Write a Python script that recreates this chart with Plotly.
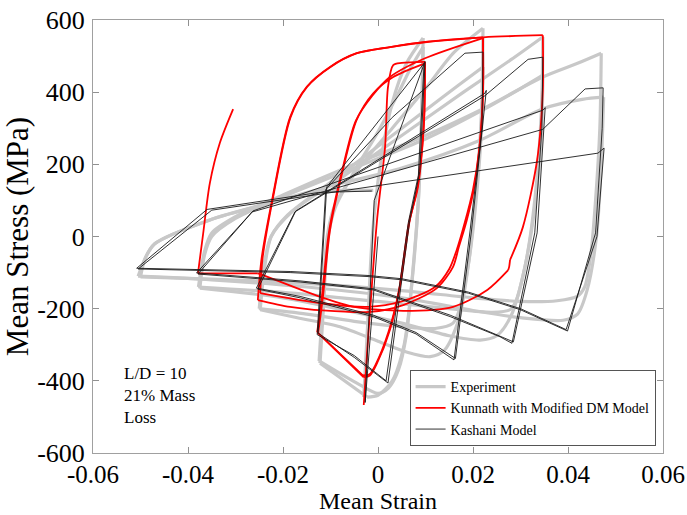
import plotly.graph_objects as go

N = None  # break between smoothed segments (corner points are repeated)

# ---------------- data (strain, stress in MPa) ----------------
exp_strain = [-0.003, -0.0022, -0.0012, 0.0005, 0.003, 0.006, 0.0095, N,
              0.0095, 0.0092, 0.0085, 0.0072, 0.0055, 0.003, 0.0, -0.0023, N,
              -0.0023, -0.0122, N,
              -0.0122, -0.0115, -0.0105, -0.009, -0.005, 0.0, 0.004, 0.007, 0.0095, N,
              0.0095, 0.0092, 0.0085, 0.0073, 0.006, 0.0043, 0.0022, 0.0, -0.004, -0.0124, N,
              -0.0124, -0.0117, -0.0107, -0.009, -0.004, 0.003, 0.010, 0.016, 0.0221, N,
              0.0221, 0.0218, 0.0205, 0.019, 0.017, 0.014, 0.011, 0.006, 0.0, -0.008, -0.017, -0.0248, N,
              -0.0248, -0.0238, -0.0225, -0.019, -0.010, 0.0, 0.010, 0.017, 0.0221, N,
              0.0221, 0.0218, 0.0205, 0.019, 0.0172, 0.0158, 0.012, 0.005, -0.005, -0.015, -0.025, N,
              -0.025, -0.024, -0.0225, -0.018, -0.008, 0.005, 0.018, 0.028, 0.0347, N,
              0.0347, 0.0344, 0.033, 0.031, 0.028, 0.025, 0.0215, 0.015, 0.005, -0.005, -0.020, -0.0375, N,
              -0.0375, -0.0365, -0.035, -0.030, -0.020, -0.005, 0.010, 0.022, 0.030, 0.0347, N,
              0.0347, 0.0344, 0.033, 0.031, 0.029, 0.0278, 0.024, 0.015, 0.0, -0.020, -0.0378, N,
              -0.0378, -0.0365, -0.035, -0.030, -0.020, -0.005, 0.010, 0.0215, 0.0347, 0.042, 0.047, N,
              0.047, 0.0467, 0.0458, 0.0448, 0.0435, 0.042, 0.0377, 0.030, 0.020, 0.005, -0.015, -0.035, -0.050, N,
              -0.050, -0.049, -0.047, -0.0354, -0.025, -0.010, 0.005, 0.0215, 0.0347, 0.043, 0.0475, N,
              0.0475, 0.047, 0.046, 0.044, 0.042, 0.039, 0.030, 0.020, 0.005, -0.015, -0.035, -0.0505, N,
              -0.0505, -0.049, -0.047, -0.0354, -0.025, -0.0122, -0.001]
exp_stress = [-445, -250, 0, 200, 370, 480, 550, N,
              550, 350, 100, -120, -300, -400, -440, -445, N,
              -445, -351, N,
              -351, -200, 0, 80, 180, 290, 390, 470, 525, N,
              525, 330, 100, -100, -270, -370, -420, -435, -410, -345, N,
              -345, -200, 0, 90, 190, 300, 410, 510, 577, N,
              577, 350, 100, -80, -230, -315, -333, -320, -290, -250, -225, -203, N,
              -203, -80, 0, 60, 150, 250, 350, 420, 470, N,
              470, 300, 80, -80, -200, -240, -255, -250, -235, -215, -200, N,
              -200, -80, 0, 70, 160, 280, 400, 490, 553, N,
              553, 350, 100, -80, -220, -275, -287, -275, -240, -210, -170, -143, N,
              -143, -50, 0, 50, 110, 190, 270, 350, 410, 447, N,
              447, 280, 80, -80, -180, -203, -210, -200, -180, -155, -140, N,
              -140, -40, 10, 55, 115, 200, 280, 350, 442, 480, 508, N,
              508, 300, 100, -50, -140, -165, -178, -180, -170, -150, -130, -118, -112, N,
              -112, -60, -20, 46, 85, 140, 190, 267, 354, 380, 386, N,
              386, 200, 0, -150, -215, -232, -225, -205, -170, -140, -120, -110, N,
              -110, -60, -20, 46, 85, 125, 128]

kun_strain = [-0.003, -0.0023, -0.0002, 0.0015, 0.0021, 0.0032, 0.005, 0.0099, N,
              0.0099, 0.0097, 0.0084, 0.0067, 0.0046, 0.0025, -0.0002, -0.0017, -0.003, N,
              -0.003, -0.0126, N,
              -0.0126, -0.0116, -0.0101, -0.0074, -0.0045, -0.001, 0.0032, 0.0099, N,
              0.0099, 0.0096, 0.0082, 0.0064, 0.0044, 0.0022, -0.0005, -0.0018, -0.0032, N,
              -0.0032, -0.0128, N,
              -0.0128, -0.0118, -0.0103, -0.0076, -0.0047, -0.0012, 0.0025, 0.0099, 0.0221, N,
              0.0221, 0.0221, 0.0214, 0.0203, 0.0187, 0.0170, 0.0158, 0.0124, 0.0053, -0.0017, -0.0116, -0.0185, -0.0253, N,
              -0.0253, -0.0245, -0.0223, -0.0185, -0.015, -0.0101, -0.0045, 0.0025, 0.0103, 0.0221, N,
              0.0221, 0.0221, 0.0213, 0.0200, 0.0183, 0.0165, 0.0150, 0.012, 0.005, -0.002, -0.012, -0.0248, N,
              -0.0248, -0.0243, -0.0222, -0.0184, -0.0149, -0.0100, -0.0044, 0.0026, 0.0104, 0.0222, 0.0347, N,
              0.0347, 0.0347, 0.0335, 0.0305, 0.0278, N,
              0.0278, 0.0276, 0.0274, N,
              0.0274, 0.023, 0.0158, 0.0053, -0.005, -0.0122, -0.0242, -0.0253, N,
              -0.0253, -0.0379, N,
              -0.0379, -0.0368, -0.0354, -0.0333, -0.0305]
kun_stress = [-467, -323, 46, 250, 414, 475, 481, 484, N,
              484, 322, 137, 46, -140, -259, -351, -385, -390, N,
              -390, -268, N,
              -268, -168, 18, 184, 323, 397, 442, 480, N,
              480, 300, 130, 30, -150, -265, -355, -382, -385, N,
              -385, -265, N,
              -265, -165, 15, 180, 320, 390, 442, 494, 550, N,
              550, 400, 250, 140, 46, -30, -84, -143, -190, -209, -205, -195, -176, N,
              -176, -60, 101, 331, 415, 470, 508, 525, 539, 552, N,
              552, 400, 240, 130, 40, -40, -90, -140, -180, -195, -185, -157, N,
              -157, -60, 101, 331, 415, 470, 508, 525, 540, 552, 558, N,
              558, 406, 212, 26, -65, N,
              -65, -85, -93, N,
              -93, -148, -195, -206, -195, -167, -107, -102, N,
              -102, -102, N,
              -102, 9, 148, 259, 353]

kas_strain = [0, -0.0027,
              -0.0008, 0.0099,
              0.0088, 0.0067, 0.0021, -0.005, -0.0126,
              -0.0108, 0.0097,
              0.0085, 0.0064, 0.0017, -0.005, -0.0128,
              -0.0110, 0.0030, 0.0183, 0.0221,
              0.0219, 0.0194, 0.0160, 0.008, -0.001, -0.0164, -0.0253,
              -0.0173, 0.0225, 0.0228,
              0.0197, 0.0163, 0.008, -0.001, -0.0164, -0.0256,
              -0.0175, 0.0225, 0.0316, 0.0347,
              0.0345, 0.0330, 0.0282, 0.0257, 0.0152, -0.001, -0.0164, -0.0379,
              -0.0263, 0.0347, 0.0352,
              0.0335, 0.0285, 0.0152, -0.001, -0.0164, -0.0382,
              -0.0265, 0.0347, 0.0436, 0.0474,
              0.0472, 0.0458, 0.0399, 0.030, 0.019, 0.005, -0.0021, -0.0185, -0.0505,
              -0.035, 0.0463, 0.0476,
              0.0461, 0.0396, 0.030, 0.019, 0.005, -0.0021, -0.0185, -0.0508,
              -0.036, -0.0125, -0.0013]
kas_stress = [0, -460,
              100, 485,
              180, 46, -406, -335, -268,
              137, 480,
              170, 40, -400, -330, -272,
              130, 330, 508, 511,
              300, 18, -342, -270, -222, -170, -146,
              71, 397, 405,
              18, -338, -266, -218, -166, -143,
              68, 390, 491, 497,
              300, 10, -296, -278, -222, -148, -126, -104,
              71, 350, 357,
              10, -292, -218, -145, -123, -101,
              68, 297, 409, 412,
              300, 10, -262, -203, -157, -120, -111, -100, -90,
              73, 231, 245,
              0, -258, -200, -154, -117, -108, -97, -88,
              75, 122, 126]

x_ticks = [-0.06, -0.04, -0.02, 0, 0.02, 0.04, 0.06]
x_tick_text = ["-0.06", "-0.04", "-0.02", "0", "0.02", "0.04", "0.06"]
y_ticks = [-600, -400, -200, 0, 200, 400, 600]
y_tick_text = ["-600", "-400", "-200", "0", "200", "400", "600"]

FONT = "Liberation Serif, Times New Roman, serif"

fig = go.Figure()
fig.add_trace(go.Scatter(x=exp_strain, y=exp_stress, mode="lines", name="Experiment",
                         connectgaps=False,
                         line=dict(color="#c8c8c8", width=3.2, shape="spline", smoothing=0.8)))
fig.add_trace(go.Scatter(x=kun_strain, y=kun_stress, mode="lines", name="Kunnath with Modified DM Model",
                         connectgaps=False,
                         line=dict(color="#ff0000", width=1.8, shape="spline", smoothing=0.8)))
fig.add_trace(go.Scatter(x=kas_strain, y=kas_stress, mode="lines", name="Kashani Model",
                         line=dict(color="#1a1a1a", width=0.9)))

axis_common = dict(showgrid=False, zeroline=False, ticks="inside", ticklen=6, tickcolor="#909090",
                   linecolor="#a0a0a0", linewidth=1, mirror="ticks", showline=True, automargin=False)
fig.update_xaxes(range=[-0.06, 0.06], tickvals=x_ticks, ticktext=x_tick_text,
                 ticklabelstandoff=-1, tickfont=dict(family=FONT, size=25, color="#000"),
                 **axis_common)
fig.update_yaxes(range=[-600, 600], tickvals=y_ticks, ticktext=y_tick_text,
                 ticklabelstandoff=2, tickfont=dict(family=FONT, size=26, color="#000"),
                 title=dict(text="Mean Stress (MPa)", font=dict(family=FONT, size=31, color="#000"), standoff=4),
                 **axis_common)

# x-axis title placed explicitly just below the tick labels
fig.add_annotation(x=0.5, y=-0.1432, xref="paper", yref="paper", xanchor="center", yanchor="bottom",
                   text="Mean Strain", showarrow=False, borderpad=0,
                   font=dict(family=FONT, size=24, color="#000"))

fig.add_annotation(x=0.05, y=0.21, xref="paper", yref="paper", xanchor="left", yanchor="top",
                   text="L/D = 10<br>21% Mass<br>Loss", showarrow=False, align="left",
                   font=dict(family=FONT, size=17, color="#000"))

fig.update_layout(
    width=687, height=515,
    margin=dict(l=93, r=24, t=20, b=62),
    paper_bgcolor="white", plot_bgcolor="white",
    showlegend=True,
    legend=dict(x=0.987, y=0.016, xanchor="right", yanchor="bottom",
                bgcolor="white", bordercolor="#555", borderwidth=1,
                font=dict(family=FONT, size=14, color="#000"),
                tracegroupgap=0, itemwidth=30),
)

fig.write_html("out.html")
